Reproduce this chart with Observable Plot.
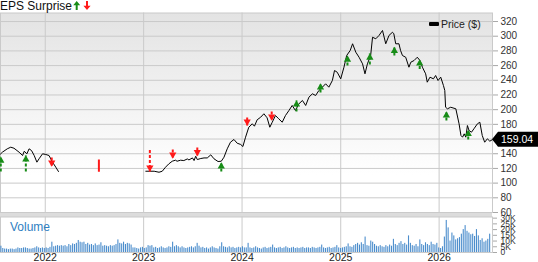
<!DOCTYPE html>
<html>
<head>
<meta charset="utf-8">
<script src="https://cdn.jsdelivr.net/npm/d3@7"></script>
<script src="https://cdn.jsdelivr.net/npm/@observablehq/plot@0.6"></script>
<style>
  body { margin: 0; background: #fff; }
  #chart { position: relative; width: 538px; height: 262px; overflow: hidden;
           font-family: "Liberation Sans", Arial, sans-serif; color: #222; }
  #chart > * { position: absolute; }
  #title { left: 0; top: 0; font-size: 12px; line-height: 12px; white-space: nowrap; color: #111; }
  #epsicons { left: 72px; top: 0.5px; }
  #band { left: 0; top: 213px; width: 492px; height: 3.5px; background: #dcdcdc; }
  #volLabel { left: 10px; top: 220.5px; font-size: 12px; line-height: 12px; color: #2f80c2; }
  #legSwatch { left: 429px; top: 21.5px; width: 10px; height: 4px; background: #000; border-radius: 1px; }
  #legText { left: 441px; top: 18px; font-size: 10.5px; line-height: 12px; color: #222; white-space: nowrap; }
</style>
</head>
<body>
<div id="chart">
  <div id="pricePanel" style="left:0;top:0"></div>
  <div id="band"></div>
  <div id="volumePanel" style="left:0;top:213px"></div>
  <div id="title">EPS Surprise</div>
  <svg id="epsicons" width="20" height="10">
    <path d="M4.7,0 L8.2,4.2 L5.7,4.2 L5.7,9 L3.7,9 L3.7,4.2 L1.2,4.2 Z" fill="#178c17"/>
    <path d="M15,9 L18.6,4.8 L16,4.8 L16,0 L14,0 L14,4.8 L11.4,4.8 Z" fill="#ff1a1a"/>
  </svg>
  <div id="legSwatch"></div>
  <div id="legText">Price ($)</div>
  <div id="volLabel">Volume</div>
</div>
<script>
// ---------- data ----------
const domainStart = "2021-07-19";
const domainEnd = "2026-07-18";
const yearLabels = ["2022", "2023", "2024", "2025", "2026"];
const priceGridTicks = [60, 80, 100, 120, 140, 160, 180, 200, 220, 240, 260, 280, 300, 320];
// 160 sits behind the last-price flag in the original, so it is not labelled
const priceLabelTicks = [60, 80, 100, 120, 140, 180, 200, 220, 240, 260, 280, 300, 320];
const volumeTicks = [0, 5, 10, 15, 20, 25, 30];
const lastPrice = 159.04;

const priceDates = [
  "2021-07-19","2021-07-26","2021-08-13","2021-08-26","2021-09-07","2021-09-26","2021-10-09","2021-10-15",
  "2021-10-25","2021-11-02","2021-11-11","2021-11-21","2021-12-01","2021-12-09","2021-12-22","2022-01-03",
  "2022-01-15","2022-01-28","2022-02-09","2022-02-19",
  "2022-08-01",
  "2023-01-09","2023-02-09","2023-02-27","2023-03-11","2023-03-23","2023-04-04","2023-04-17","2023-04-29",
  "2023-05-05","2023-05-18","2023-05-30","2023-06-12","2023-06-18","2023-07-01","2023-07-07","2023-07-13",
  "2023-07-19","2023-08-01","2023-08-13","2023-08-25","2023-09-07","2023-09-19","2023-10-04","2023-10-16",
  "2023-10-26","2023-11-07","2023-11-19","2023-12-02","2023-12-14","2023-12-27","2024-01-04","2024-01-14",
  "2024-01-26","2024-02-08","2024-02-16","2024-02-26","2024-03-10","2024-03-22","2024-04-03","2024-04-13",
  "2024-04-22","2024-05-04","2024-05-16","2024-05-29","2024-06-10","2024-06-23","2024-07-05","2024-07-17",
  "2024-07-30","2024-08-12","2024-08-24","2024-09-05","2024-09-18","2024-09-30","2024-10-12","2024-10-25",
  "2024-11-06","2024-11-18","2024-12-01","2024-12-09","2024-12-19","2025-01-01","2025-01-13","2025-01-23",
  "2025-02-05","2025-02-14","2025-02-26","2025-03-10","2025-03-23","2025-04-01","2025-04-10","2025-04-22",
  "2025-04-29","2025-05-11","2025-05-23","2025-06-05","2025-06-17","2025-06-29","2025-07-12","2025-07-17",
  "2025-07-24","2025-08-05","2025-08-11","2025-08-18","2025-08-30","2025-09-11","2025-09-18","2025-09-30",
  "2025-10-12","2025-10-22","2025-10-31","2025-11-12","2025-11-18","2025-11-28","2025-12-11","2025-12-19",
  "2025-12-28","2026-01-07","2026-01-17","2026-01-22","2026-01-25","2026-02-01","2026-02-13","2026-03-04",
  "2026-03-16","2026-03-23","2026-03-29","2026-04-04","2026-04-10","2026-04-16","2026-04-22","2026-05-01",
  "2026-05-10","2026-05-23","2026-06-01","2026-06-10","2026-06-19","2026-06-29","2026-07-08","2026-07-17"
];
const priceValues = [
  139.6,142.1,146.7,148.9,147.5,142.1,137.6,143.4,
  139.9,146.7,144.4,137.6,128.5,133.1,139.9,139.0,
  137.6,128.5,121.7,115.8,
  null,
  116.2,116.2,114.8,116.2,121.6,126.1,129.8,131.2,
  129.8,131.2,130.7,132.9,131.6,134.3,130.7,136.6,
  132.1,133.5,134.3,134.3,138.5,133.1,129.4,129.8,
  135.3,146.7,155.7,159.4,154.3,152.6,149.8,162.5,
  176.1,180.7,177.5,186.2,189.7,194.4,188.9,176.1,
  182.9,192.0,187.6,182.9,192.0,198.9,205.7,198.9,
  208.0,212.5,205.7,217.0,221.6,219.3,226.1,230.6,
  235.2,230.6,239.7,253.3,251.0,242.0,257.8,273.7,
  280.5,289.7,278.2,271.4,262.4,248.8,262.4,273.7,
  298.6,296.5,301.0,307.8,289.7,301.0,305.4,303.3,
  289.7,289.7,280.5,273.7,271.4,257.8,264.6,266.9,
  271.4,266.9,257.8,248.8,237.4,244.2,242.0,246.5,
  239.7,244.2,232.9,226.1,203.3,201.2,203.3,201.2,
  180.7,164.8,162.5,167.1,162.5,178.4,171.6,169.3,
  173.9,180.7,182.9,164.8,155.7,160.3,157.1,159.04
];

// EPS surprise events
const epsDates = ["2021-07-20","2021-10-21","2022-01-25","2022-07-19","2023-01-24","2023-04-19","2023-07-19",
  "2023-10-16","2024-01-20","2024-04-20","2024-07-21","2024-10-18","2025-01-26","2025-04-19","2025-07-19",
  "2025-10-21","2026-01-28","2026-04-19"];
const epsSurprise = ["beat","beat","miss","miss","miss","miss","miss","beat","miss","miss","beat","beat",
  "beat","beat","beat","beat","beat","beat"];
const epsTip  = [136.2,137.6,122.6,115.4,115.8,133.5,136.9,128.1,178.4,185.2,212.5,235.6,273.7,276.4,285.3,268.3,197.5,172.3];
const epsTail = [115.8,115.8,134.9,132.2,145.1,145.8,148.5,115.8,189.3,197.5,197.5,223.4,260.1,261.5,273.7,255.3,185.2,159.4];
const epsHead = [true,true,true,false,true,true,true,true,true,true,true,true,true,true,true,true,true,true];

// weekly volume (thousands), starting week of 2021-07-19
const volumeStart = "2021-07-19";
const volumeK = [
  5.5,3.5,3,3,2.5,3,3,2.5,3,4,3.5,3.5,4,4,3.5,3,3,3.5,4,5,4,3.5,4,
  3.5,4,3.5,4.5,9,
  5,5.5,6,5.5,6,5.5,6,5,7,6,7.5,7,8,
  10.5,
  9,8.5,9,7,8,6.5,7,6,7.5,6,6.5,8.5,
  5.5,6,5.5,5,6,5.5,6,7,11,8,7.5,9,7,
  8,7.5,6.5,4,4,3.5,3,4,4.5,3.5,4,6,5.5,
  6,4,4.5,3.5,4,5,4,3.5,4,5,4.5,9,5,
  6,5,4,5,4,3.5,4,4.5,5,4,5,8,5.5,
  4,4.5,3.5,4,3,4,5,4,3.5,3,5,8.5,5,4.5,4,5,4,4.5,3.5,4,4.5,4,5,4,4,
  8,4,3.5,4,5,4,3.5,3,4,4.5,3.5,4,4.5,6.5,4,3.5,4,4.5,3.5,4,5,4,3.5,4,4.5,3.5,
  4,3.5,4,4.5,3.5,4,4,3.5,4.5,4,3.5,4,4.5,6.5,4,3.5,4,4.5,3.5,4,4.5,6,4,3.5,4,4.5,
  5,7.5,5,4.5,6,7,8,6.5,8.5,7,13.5,6,5.5,10,9,7,5.5,5,6,5,4.5,6,5,6.5,5.5,11.5,
  7,6,8,9.5,7,8,6.5,14.5,8,6,5.5,7,5,11,7,6,8.5,7,6,9,7,6.5,8,4,3.5,
  5,13.5,28,21.5,10,17,14.5,11,12,13,16,20,23.5,18.5,17,15.5,16,14,20,14.5,10.5,12,9,10,11.5,16
];

// ---------- build ----------
const parse = d3.utcParse("%Y-%m-%d");
const xDomain = [parse(domainStart), parse(domainEnd)];
const yearDates = yearLabels.map(y => parse(y + "-01-01"));
const price = priceDates.map((d, i) => ({date: parse(d), value: priceValues[i]}));
const eps = epsDates.map((d, i) => ({date: parse(d), kind: epsSurprise[i], tip: epsTip[i], tail: epsTail[i], head: epsHead[i]}));
const v0 = parse(volumeStart);
const vol = volumeK.map((v, i) => ({start: d3.utcDay.offset(v0, 7 * i), end: d3.utcDay.offset(v0, 7 * i + 7), v}));

const GREEN = "#178c17", RED = "#ff1a1a", GRID = "#cacaca";
const beats = eps.filter(d => d.kind === "beat");
const misses = eps.filter(d => d.kind === "miss" && d.head);
const bars = eps.filter(d => !d.head);

const pricePlot = Plot.plot({
  width: 538, height: 216,
  marginTop: 12.5, marginBottom: 4, marginLeft: 0, marginRight: 46,
  style: {
    fontFamily: "Liberation Sans, Arial, sans-serif", fontSize: "10px", overflow: "visible",
    background: "linear-gradient(to bottom, #e3e3e3, #ffffff 162px) 0px 12.5px / 492px 200px no-repeat"
  },
  x: {type: "utc", domain: xDomain, axis: null},
  y: {domain: [60, 331.6], axis: null},
  marks: [
    Plot.gridY(priceGridTicks, {stroke: GRID, strokeOpacity: 1}),
    Plot.gridX(yearDates, {stroke: GRID, strokeOpacity: 1}),
    Plot.frame({stroke: GRID}),
    Plot.axisY(priceLabelTicks, {anchor: "right", label: null, tickSize: 5, tickPadding: 3, stroke: "#a8a8a8", fill: "#333", fontSize: 10}),
    Plot.line(price, {x: "date", y: "value", stroke: "#000", strokeWidth: 1}),
    Plot.link(bars, {x1: "date", x2: "date", y1: "tail", y2: "tip", stroke: RED, strokeWidth: 2, clip: true}),
    Plot.link(beats, {x1: "date", x2: "date", y1: "tail", y2: "tip", stroke: GREEN, strokeWidth: 2, strokeDasharray: "3,2", clip: true}),
    Plot.link(misses, {x1: "date", x2: "date", y1: "tail", y2: "tip", stroke: RED, strokeWidth: 2, strokeDasharray: "3,2", clip: true}),
    Plot.dot(beats, {x: "date", y: "tip", symbol: "triangle", r: 2.7, fill: GREEN, stroke: "none", dy: 4, clip: true}),
    Plot.dot(misses, {x: "date", y: "tip", symbol: "triangle", r: 2.7, fill: RED, stroke: "none", rotate: 180, dy: -4, clip: true}),
    (index, scales, values, dimensions) => {
      const y = scales.y(lastPrice);
      const x0 = dimensions.width - dimensions.marginRight;
      const g = d3.create("svg:g");
      g.append("path")
        .attr("d", `M${x0},${y}L${x0 + 6},${y - 7.5}H${dimensions.width}V${y + 7.5}H${x0 + 6}Z`)
        .attr("fill", "#000");
      g.append("text")
        .attr("x", x0 + 9).attr("y", y).attr("dy", "0.36em")
        .attr("text-anchor", "start")
        .attr("fill", "#fff").attr("font-size", 10.5)
        .text(d3.format(".2f")(lastPrice));
      return g.node();
    }
  ]
});
document.getElementById("pricePanel").append(pricePlot);

const volPlot = Plot.plot({
  width: 538, height: 49,
  marginTop: 3.5, marginBottom: 10, marginLeft: 0, marginRight: 46,
  style: {fontFamily: "Liberation Sans, Arial, sans-serif", fontSize: "10px", overflow: "visible", background: "transparent"},
  x: {type: "utc", domain: xDomain, axis: null},
  y: {domain: [0, 31], axis: null},
  marks: [
    Plot.gridX(yearDates, {stroke: GRID, strokeOpacity: 1}),
    Plot.frame({stroke: GRID}),
    Plot.rectY(vol, {x1: "start", x2: "end", y: "v", fill: "#4b8dcc", insetLeft: 0.35, insetRight: 0.45}),
    Plot.axisY(volumeTicks, {anchor: "right", label: null, tickSize: 4, tickPadding: 4, stroke: "#a8a8a8", fill: "#333", fontSize: 8.5,
      tickFormat: d => d === 0 ? "0" : d + "K"}),
    Plot.axisX(yearDates, {anchor: "bottom", label: null, tickSize: 0, tickPadding: 1.5, fill: "#222", fontSize: 10.5,
      tickFormat: d3.utcFormat("%Y")})
  ]
});
document.getElementById("volumePanel").append(volPlot);
</script>
</body>
</html>
